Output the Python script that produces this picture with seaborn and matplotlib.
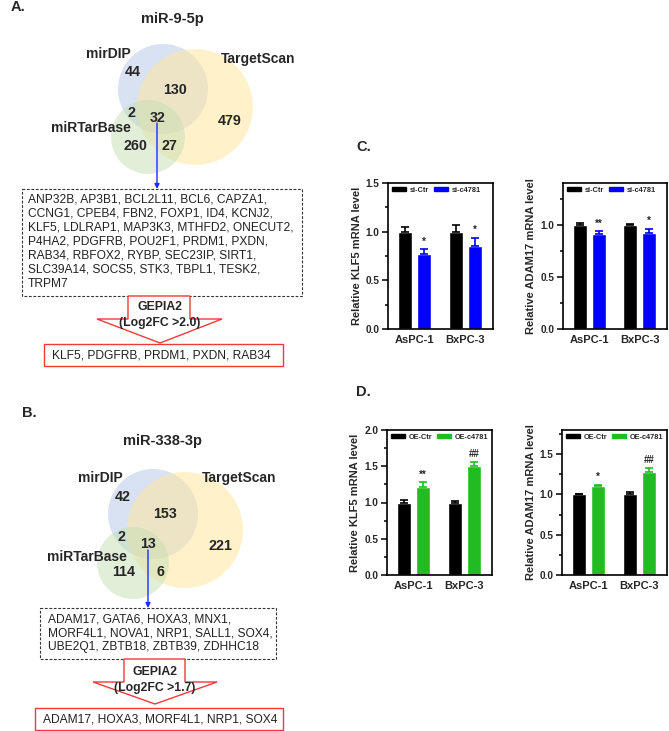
import matplotlib
matplotlib.use("Agg")
import matplotlib.pyplot as plt
import seaborn as sns
import pandas as pd
from matplotlib.patches import Circle, Rectangle, Polygon
from matplotlib.ticker import MultipleLocator, AutoMinorLocator

sns.set_theme(style="ticks")
plt.rcParams['font.family'] = ['Liberation Sans', 'DejaVu Sans']

# ---------------- data ----------------
cell_lines = ["AsPC-1", "BxPC-3"]
si_groups = ["si-Ctr", "si-c4781"]
oe_groups = ["OE-Ctr", "OE-c4781"]

klf5_si_ctr = [1.00, 1.00]
klf5_si_ctr_err = [0.05, 0.07]
klf5_si_kd = [0.77, 0.855]
klf5_si_kd_err = [0.05, 0.085]
klf5_si_sig = ["*", "*"]

adam17_si_ctr = [1.00, 1.00]
adam17_si_ctr_err = [0.015, 0.01]
adam17_si_kd = [0.915, 0.925]
adam17_si_kd_err = [0.02, 0.035]
adam17_si_sig = ["**", "*"]

klf5_oe_ctr = [1.00, 1.00]
klf5_oe_ctr_err = [0.04, 0.015]
klf5_oe = [1.22, 1.50]
klf5_oe_err = [0.06, 0.065]
klf5_oe_sig = ["**", "##"]

adam17_oe_ctr = [1.00, 1.00]
adam17_oe_ctr_err = [0.006, 0.035]
adam17_oe = [1.10, 1.275]
adam17_oe_err = [0.02, 0.055]
adam17_oe_sig = ["*", "##"]

venn_sets = ["mirDIP", "TargetScan", "miRTarBase"]
# regions: mirDIP only, mirDIP&TS, mirDIP&miRTar, all, TS only, miRTar only, TS&miRTar
venn_a_counts = [44, 130, 2, 32, 479, 260, 27]
venn_b_counts = [42, 153, 2, 13, 221, 114, 6]

genes_a_lines = [
    ["ANP32B", "AP3B1", "BCL2L11", "BCL6", "CAPZA1"],
    ["CCNG1", "CPEB4", "FBN2", "FOXP1", "ID4", "KCNJ2"],
    ["KLF5", "LDLRAP1", "MAP3K3", "MTHFD2", "ONECUT2"],
    ["P4HA2", "PDGFRB", "POU2F1", "PRDM1", "PXDN"],
    ["RAB34", "RBFOX2", "RYBP", "SEC23IP", "SIRT1"],
    ["SLC39A14", "SOCS5", "STK3", "TBPL1", "TESK2"],
    ["TRPM7"],
]
genes_a_selected = ["KLF5", "PDGFRB", "PRDM1", "PXDN", "RAB34"]
genes_b_lines = [
    ["ADAM17", "GATA6", "HOXA3", "MNX1"],
    ["MORF4L1", "NOVA1", "NRP1", "SALL1", "SOX4"],
    ["UBE2Q1", "ZBTB18", "ZBTB39", "ZDHHC18"],
]
genes_b_selected = ["ADAM17", "HOXA3", "MORF4L1", "NRP1", "SOX4"]
gepia_a = "(Log2FC >2.0)"
gepia_b = "(Log2FC >1.7)"

W, H = 669, 731
fig = plt.figure(figsize=(W / 100, H / 100), dpi=100)
ov = fig.add_axes([0, 0, 1, 1])
ov.set_xlim(0, W)
ov.set_ylim(H, 0)
ov.axis("off")

C_BLUE = "#b4c7e7"
C_YEL = "#ffe699"
C_GRN = "#c5e0b4"
RED = "#f03a3a"
GENE_FS = 8.65


def venn(cx_b, cy_b, r_b, cx_y, cy_y, r_y, cx_g, cy_g, r_g):
    ov.add_patch(Circle((cx_b, cy_b), r_b, fc=C_BLUE, ec="none", alpha=0.5))
    ov.add_patch(Circle((cx_y, cy_y), r_y, fc=C_YEL, ec="none", alpha=0.5))
    ov.add_patch(Circle((cx_g, cy_g), r_g, fc=C_GRN, ec="none", alpha=0.5))


def gene_section(title, title_xy, circles, label_pos, counts, count_pos,
                 arrow, box, lines, line_x, line_y0, gep_stem, gep_head,
                 gep_text, gep_y, res_box, res_genes):
    ov.text(*title_xy, title, ha="center", va="center", fontsize=10.5,
            fontweight="bold")
    venn(*circles)
    for name, (x, y) in zip(venn_sets, label_pos):
        ov.text(x, y, name, ha="center", va="center", fontsize=10,
                fontweight="bold")
    for c, (x, y) in zip(counts, count_pos):
        ov.text(x, y, str(c), ha="center", va="center", fontsize=10.3,
                fontweight="bold")
    ov.annotate("", xy=(arrow[0], arrow[2]), xytext=(arrow[0], arrow[1]),
                arrowprops=dict(arrowstyle="-|>", color="#1a2cff", lw=1.0,
                                mutation_scale=7, shrinkA=0, shrinkB=0))
    bx0, bx1, by0, by1 = box
    ov.add_patch(Rectangle((bx0, by0), bx1 - bx0, by1 - by0, fill=False,
                           ec="#333333", lw=0.8, ls=(0, (2.5, 1.5))))
    for i, ln in enumerate(lines):
        sep = "," if i < len(lines) - 1 else ""
        ov.text(line_x, line_y0 + 14 * i, ", ".join(ln) + sep, ha="left",
                va="center", fontsize=GENE_FS, color="#222222")
    sx0, sx1, sy0, sy1 = gep_stem
    hx0, hx1, tipx, tipy = gep_head
    poly = [(sx0, sy0), (sx1, sy0), (sx1, sy1), (hx1, sy1), (tipx, tipy),
            (hx0, sy1), (sx0, sy1)]
    ov.add_patch(Polygon(poly, closed=True, fc="white", ec=RED, lw=1.0))
    ov.text(tipx, gep_y[0], "GEPIA2", ha="center", va="center", fontsize=8.8,
            fontweight="bold")
    ov.text(tipx, gep_y[1], gep_text, ha="center", va="center", fontsize=8.8,
            fontweight="bold")
    rx0, rx1, ry0, ry1 = res_box
    ov.add_patch(Rectangle((rx0, ry0), rx1 - rx0, ry1 - ry0, fill=False,
                           ec=RED, lw=1.0))
    ov.text(rx0 + 8, (ry0 + ry1) / 2, ", ".join(res_genes), ha="left",
            va="center", fontsize=GENE_FS, color="#222222")


# Panel A
ov.text(11, 7, "A.", ha="left", va="center", fontsize=10.5, fontweight="bold")
gene_section("miR-9-5p", (172, 19),
             (163, 89, 45, 195, 107, 58, 148, 137, 37),
             [(108, 54), (258, 59), (91, 128)],
             venn_a_counts,
             [(133, 72), (175, 90), (131, 113), (158, 118), (230, 121),
              (135, 146), (169, 146)],
             (157, 123, 189), (22, 302, 189, 296), genes_a_lines, 28, 200,
             (128, 190, 296, 319), (97, 222, 160, 343), gepia_a, (307, 323),
             (44, 283, 344, 366), genes_a_selected)

# Panel B
ov.text(22, 413, "B.", ha="left", va="center", fontsize=10.5, fontweight="bold")
gene_section("miR-338-3p", (163, 441),
             (153, 514, 45, 185, 530, 58, 133, 563, 36),
             [(100, 478), (239, 478), (87, 557)],
             venn_b_counts,
             [(123, 497), (165, 514), (122, 537), (148, 544), (220, 546),
              (124, 572), (160, 572)],
             (148, 550, 608), (40, 276, 608, 659), genes_b_lines, 48, 619,
             (124, 185, 659, 682), (93, 217, 155, 704), gepia_b, (672, 688),
             (35, 283, 708, 730), genes_b_selected)

ov.text(356, 147, "C.", ha="left", va="center", fontsize=10.5, fontweight="bold")
ov.text(356, 392, "D.", ha="left", va="center", fontsize=10.5, fontweight="bold")


def px_axes(x0, x1, y0, y1):
    return fig.add_axes([x0 / W, 1 - y1 / H, (x1 - x0) / W, (y1 - y0) / H])


def bar_panel(ax, ctr, ctr_err, trt, trt_err, groups, colors, sig, ymax,
              ylabel):
    df = pd.DataFrame({
        "cell": cell_lines * 2,
        "group": [groups[0]] * len(cell_lines) + [groups[1]] * len(cell_lines),
        "value": list(ctr) + list(trt),
    })
    sns.barplot(data=df, x="cell", y="value", hue="group", order=cell_lines,
                hue_order=groups, palette=colors, width=0.75, gap=0.27,
                errorbar=None, saturation=1, legend=False, ax=ax)
    for k, (cont, errs) in enumerate(zip(ax.containers, [ctr_err, trt_err])):
        for j, (bar, e) in enumerate(zip(cont, errs)):
            xc = bar.get_x() + bar.get_width() / 2
            h = bar.get_height()
            ax.errorbar(xc, h, yerr=[[0], [e]], fmt="none",
                        ecolor=colors[k], elinewidth=1.2, capsize=2.6,
                        capthick=1.2)
            if k == 1:
                ax.annotate(sig[j], (xc, h + e), xytext=(0, 2),
                            textcoords="offset points", ha="center",
                            va="bottom", fontsize=7, fontweight="bold")
    ax.set_xlim(-0.52, 1.54)
    ax.set_ylim(0, ymax)
    ax.yaxis.set_major_locator(MultipleLocator(0.5))
    ax.yaxis.set_minor_locator(AutoMinorLocator(2))
    ax.set_xlabel("")
    ax.set_ylabel(ylabel, fontsize=8, fontweight="bold", labelpad=3)
    for s in ax.spines.values():
        s.set_visible(True)
        s.set_color("black")
        s.set_linewidth(1.2)
    ax.tick_params(axis="y", which="major", direction="out", length=4,
                   width=1.1, labelsize=7.2, pad=2, color="black")
    ax.tick_params(axis="y", which="minor", direction="out", length=2.5,
                   width=1.1, color="black")
    ax.tick_params(axis="x", length=0, labelsize=8, pad=4)
    for t in ax.get_yticklabels() + ax.get_xticklabels():
        t.set_fontweight("bold")
    ax.yaxis.set_major_formatter(matplotlib.ticker.FormatStrFormatter("%.1f"))
    handles = [Rectangle((0, 0), 1, 1, color=c) for c in colors]
    ax.legend(handles, groups, ncol=2, loc="upper left", frameon=False,
              prop={"size": 5.3, "weight": "bold"}, handlelength=1.9,
              handleheight=0.55, handletextpad=0.5, columnspacing=0.7,
              borderaxespad=0.3, borderpad=0.2)
    ax.set_facecolor("white")


BLACK = "#000000"
BLUE = "#0000ff"
GREEN = "#22bb22"

ax1 = px_axes(388, 493, 183, 329)
bar_panel(ax1, klf5_si_ctr, klf5_si_ctr_err, klf5_si_kd, klf5_si_kd_err,
          si_groups, [BLACK, BLUE], klf5_si_sig, 1.5,
          "Relative KLF5 mRNA level")
ax2 = px_axes(563, 667, 183, 329)
bar_panel(ax2, adam17_si_ctr, adam17_si_ctr_err, adam17_si_kd,
          adam17_si_kd_err, si_groups, [BLACK, BLUE], adam17_si_sig, 1.4,
          "Relative ADAM17 mRNA level")
ax3 = px_axes(387, 492, 430, 575)
bar_panel(ax3, klf5_oe_ctr, klf5_oe_ctr_err, klf5_oe, klf5_oe_err,
          oe_groups, [BLACK, GREEN], klf5_oe_sig, 2.0,
          "Relative KLF5 mRNA level")
ax4 = px_axes(562, 667, 430, 575)
bar_panel(ax4, adam17_oe_ctr, adam17_oe_ctr_err, adam17_oe, adam17_oe_err,
          oe_groups, [BLACK, GREEN], adam17_oe_sig, 1.8,
          "Relative ADAM17 mRNA level")

fig.savefig("out.png", dpi=100, facecolor="white")
